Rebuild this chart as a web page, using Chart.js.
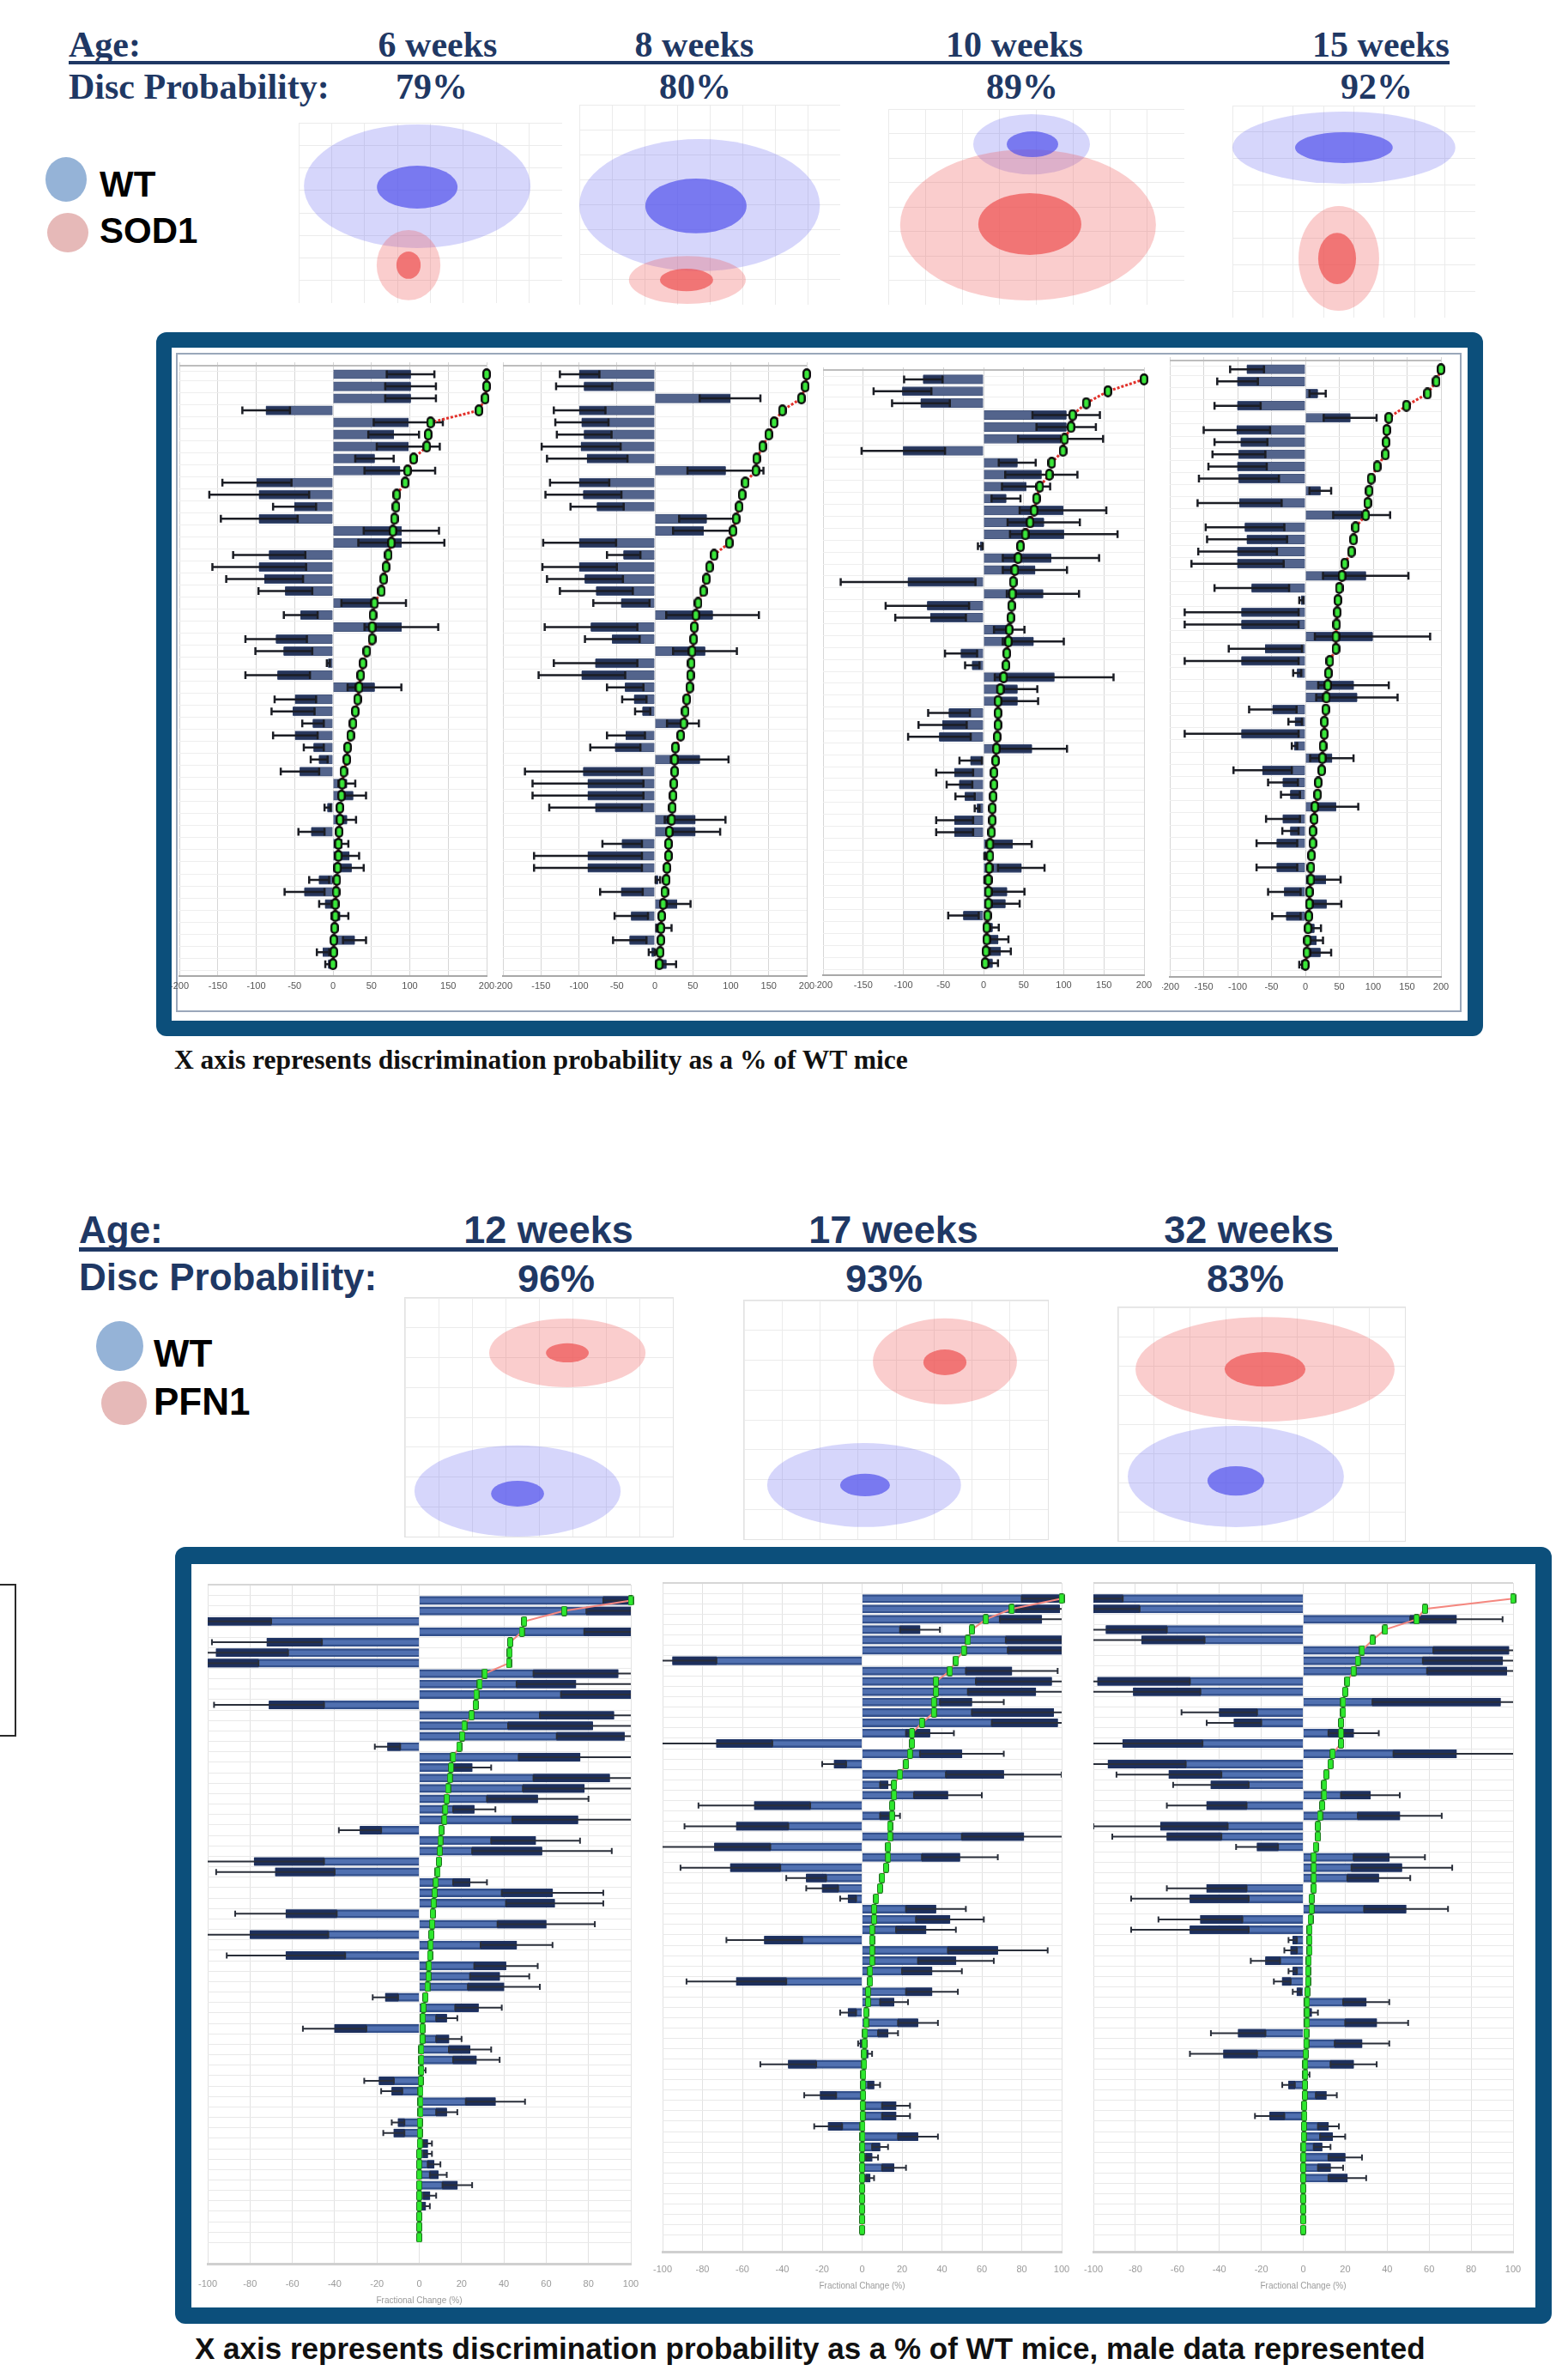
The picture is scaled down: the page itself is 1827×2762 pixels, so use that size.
<!DOCTYPE html>
<html>
<head>
<meta charset="utf-8">
<title>Discrimination probability – SOD1 and PFN1</title>
<script src="https://cdn.jsdelivr.net/npm/chart.js@4.4.1/dist/chart.umd.min.js"></script>
<style>
  html, body { margin:0; padding:0; background:#fff; }
  body { width:1827px; height:2762px; position:relative; overflow:hidden; }
  .abs { position:absolute; }
  canvas { position:absolute; }
  .frame { position:absolute; background:#0c4f7b; border-radius:12px; }
  .inner { position:absolute; background:#fff; }
</style>
</head>
<body>
<!-- framed boxes around the two bar-chart groups -->
<div class="frame" style="left:182px;top:387px;width:1546px;height:820px"></div>
<div class="inner" style="left:200px;top:405px;width:1510px;height:784px"></div>
<div class="abs" style="left:205px;top:411px;width:1494px;height:764px;border:2px solid #9aa7ba"></div>
<div class="frame" style="left:204px;top:1802px;width:1604px;height:905px"></div>
<div class="inner" style="left:223px;top:1822px;width:1566px;height:866px"></div>
<div class="abs" style="left:-3px;top:1845px;width:18px;height:174px;border:2px solid #2a2a2a"></div>

<!-- header rules -->
<div class="abs" style="left:80px;top:71px;width:1609px;height:4px;background:#1f3864"></div>
<div class="abs" style="left:92px;top:1453px;width:1467px;height:5px;background:#1f3864"></div>

<!-- legend swatches -->
<div class="abs" style="left:53px;top:183px;width:48px;height:52px;border-radius:50%;background:#95b3d7"></div>
<div class="abs" style="left:55px;top:248px;width:48px;height:46px;border-radius:50%;background:#e6b9b8"></div>
<div class="abs" style="left:112px;top:1539px;width:55px;height:58px;border-radius:50%;background:#95b3d7"></div>
<div class="abs" style="left:118px;top:1609px;width:53px;height:51px;border-radius:50%;background:#e6b9b8"></div>

<script>
// ---------------- text content ----------------
const sod1Ages = ['6 weeks', '8 weeks', '10 weeks', '15 weeks'];
const sod1Disc = ['79%', '80%', '89%', '92%'];
const pfn1Ages = ['12 weeks', '17 weeks', '32 weeks'];
const pfn1Disc = ['96%', '93%', '83%'];
const topTicks = [-200, -150, -100, -50, 0, 50, 100, 150, 200];
const bottomTicks = [-100, -80, -60, -40, -20, 0, 20, 40, 60, 80, 100];

// ---------------- SOD1 panels: bar value, error, cumulative curve ----------------
const sod1Wk6Values = [101,101,101,-87,98,79,98,54,87,-99,
  -96,-50,-96,89,89,-83,-96,-89,-62,53,
  -42,89,-74,-64,-6,-72,54,-49,-52,-26,
  -49,-25,-18,-43,18,26,-7,18,-28,12,
  21,24,-18,-37,-10,9,0,28,-13,-6];
const sod1Wk6Errors = [31,33,33,31,45,33,41,25,46,45,
  65,28,50,49,56,47,61,50,35,42,
  22,48,40,37,2,42,35,27,28,14,
  29,13,11,25,11,17,4,12,17,8,
  13,16,13,26,8,11,0,15,8,4];
const sod1Wk6Curve = [200,200,198,190,127,124,122,105,97,94,
  83,82,80,78,76,72,69,66,63,54,
  52,51,51,44,39,36,34,32,29,26,
  23,19,18,14,12,11,9,9,8,7,
  7,6,5,4,3,3,2,1,1,0];

const sod1Wk8Values = [-99,-93,99,-99,-96,-93,-97,-89,93,-99,
  -94,-76,68,64,-99,-41,-99,-92,-77,-44,
  76,-84,-56,66,-78,-96,-39,-27,-16,37,
  -38,-52,59,-94,-88,-88,-78,53,53,-43,
  -88,-88,4,-44,29,-31,12,-33,-4,15];
const sod1Wk8Errors = [26,37,40,34,35,36,52,53,50,39,
  50,35,36,40,48,22,49,50,48,37,
  61,61,36,42,55,57,24,16,10,21,
  25,33,38,77,73,73,61,40,33,26,
  71,71,3,28,18,22,10,22,4,13];
const sod1Wk8Curve = [200,198,193,168,157,150,142,134,133,119,
  115,111,107,103,98,78,72,68,64,57,
  54,52,51,49,48,47,46,42,40,38,
  34,27,26,26,25,24,23,22,19,18,
  18,16,15,13,11,9,8,8,7,6];

const sod1Wk10Values = [-75,-101,-78,103,103,96,-100,42,72,53,
  28,99,75,100,-4,84,64,-94,74,-70,
  -66,32,62,-28,-14,88,42,42,-43,-51,
  -55,60,-16,-36,-30,-23,-8,-36,-36,36,
  3,47,5,29,27,-25,11,18,21,11];
const sod1Wk10Errors = [24,36,36,42,37,53,52,23,45,30,
  18,54,45,67,3,60,40,84,45,52,
  44,19,38,20,9,74,25,26,26,30,
  39,44,14,23,16,12,3,23,23,24,
  2,29,4,22,18,19,8,13,13,7];
const sod1Wk10Curve = [200,155,128,111,109,101,99,85,82,70,
  66,63,58,52,46,43,39,37,36,35,
  34,32,31,29,28,25,21,18,18,18,
  17,16,15,13,13,12,11,11,10,8,
  8,7,6,6,6,5,4,4,3,2];

const sod1Wk15Values = [-86,-100,18,-100,66,-101,-95,-98,-100,-98,
  22,-97,83,-89,-86,-100,-100,89,-79,-6,
  -94,-94,99,-59,-94,-12,71,76,-48,-15,
  -94,-16,39,-63,-33,-22,45,-33,-22,-42,
  0,-42,30,-31,31,-28,13,16,22,-6];
const sod1Wk15Errors = [25,30,12,34,39,49,39,39,43,59,
  16,62,42,58,59,58,68,63,55,3,
  84,84,85,54,84,6,52,60,35,10,
  84,4,32,43,22,14,33,25,12,30,
  0,30,22,24,22,21,10,10,16,3];
const sod1Wk15Curve = [200,193,180,149,123,120,119,118,106,97,
  94,92,89,74,71,68,58,54,50,48,
  47,46,45,45,36,34,33,31,30,28,
  28,26,25,24,19,18,14,13,11,11,
  9,8,8,6,6,5,4,3,2,0];

// ---------------- PFN1 panels (fractional change, %) ----------------
const pfn1Wk12Values = [104,103,-102,103,-72,-96,-101,94,74,102,
  -71,92,82,97,-15,76,25,90,78,56,
  26,75,-28,55,58,-78,-68,24,63,64,
  -63,60,-80,46,-63,41,38,40,-16,28,
  13,-40,14,24,27,2,-19,-13,36,13,
  -10,-12,4,4,7,9,18,5,3,0,
  0,0];
const pfn1Wk12Errors = [17,24,32,25,26,34,25,40,28,35,
  26,35,40,32,6,29,9,36,29,24,
  10,31,10,21,33,33,28,8,24,23,
  24,23,37,17,28,15,14,17,6,11,
  5,15,6,10,11,1,7,5,14,5,
  3,5,2,2,3,4,7,3,2,0,
  0,0];
const pfn1Wk12Curve = [100,68.5,49.6,48.5,43,42.7,42.4,31,28.6,27,
  26.7,24.7,21.3,20.3,18.9,16,15,14.5,13.6,13,
  12.3,11.9,10.4,10,9.7,9.3,8.7,7.8,7.3,6.8,
  6.4,6.1,5.7,5.4,5.1,4.6,4.4,3.9,2.9,2,
  1.7,1.5,1.5,1,1,1,0.7,0.6,0.6,0.6,
  0.3,0.3,0.3,0,0,0,0,0,0,0,
  0,0];

const pfn1Wk17Values = [102,99,90,29,102,102,-95,75,95,87,
  55,96,98,34,-73,50,-14,71,13,43,
  -54,14,-63,81,-74,49,-66,-28,-20,-7,
  37,44,32,-49,68,47,35,-63,35,16,
  -7,28,13,-1,3,-37,0,6,-21,17,
  17,-17,28,9,5,16,4,0,0,0,
  0,0];
const pfn1Wk17Errors = [22,22,21,10,30,29,22,23,38,34,
  16,41,33,12,28,21,6,29,4,17,
  28,5,26,31,28,19,25,10,8,4,
  15,17,15,19,25,19,15,25,13,7,
  4,10,5,1,2,14,0,3,8,7,
  7,7,10,4,3,6,2,0,0,0,
  0,0];
const pfn1Wk17Curve = [100,75,62,55,53,51,47,44,37,37,
  36,36,30,25,25,24,22,19,16,16,
  15,15,14,14,13,13,12,10,9,7,
  6,6,5,5,5,5,4,4,3,3,
  2,2,1.5,1.2,1,1,0.6,0.5,0.5,0.3,
  0.3,0.2,0.2,0.1,0,0,0,0,0,0,
  0,0];

const pfn1Wk32Values = [-102,-101,73,-94,-77,98,95,97,-98,-81,
  94,-40,-33,24,-86,73,-93,-64,-44,32,
  -46,46,-68,-65,-22,41,47,36,-46,-54,
  49,-49,-54,-5,-6,-18,-5,-10,-3,30,
  4,35,-31,28,-38,24,2,-7,11,0,
  -16,12,14,9,20,13,21,0,0,0,
  0,0];
const pfn1Wk32Errors = [16,23,22,29,30,36,38,38,44,32,
  61,18,13,12,38,30,37,25,18,14,
  19,20,32,26,10,17,24,15,19,28,
  20,20,28,2,3,7,2,4,2,11,
  3,15,13,13,16,11,1,3,5,0,
  7,5,6,4,8,6,9,0,0,0,
  0,0];
const pfn1Wk32Curve = [100,58,54,39,33,28,26,24,21,20,
  19,19,18,18,18,14,13,11,10,10,
  9,8,7,7,6,5,5,5,5,4,
  4,3.5,3,3,3,2.6,2.3,2.3,2,1.8,
  1.8,1.8,1.5,1.5,1.2,1,1,0.8,0.8,0.5,
  0.5,0.4,0.3,0.2,0.1,0,0,0,0,0,
  0,0];

// ---------------- discriminant-space regions (centre, radii) ----------------
const wk6WtRegions   = [{x:-0.50,y:1.48,rx:4.30,ry:3.43},{x:-0.50,y:1.43,rx:1.53,ry:1.19}];
const wk6Sod1Regions = [{x:-0.83,y:-2.90,rx:1.21,ry:1.95},{x:-0.83,y:-2.90,rx:0.46,ry:0.76}];
const wk8WtRegions   = [{x:-0.39,y:-0.02,rx:4.61,ry:3.30},{x:-0.53,y:-0.06,rx:1.94,ry:1.37}];
const wk8Sod1Regions = [{x:-0.86,y:-3.76,rx:2.24,ry:1.20},{x:-0.89,y:-3.76,rx:1.02,ry:0.56}];
const wk10WtRegions   = [{x:-0.16,y:3.20,rx:1.97,ry:1.54},{x:-0.13,y:3.20,rx:0.87,ry:0.66}];
const wk10Sod1Regions = [{x:-0.28,y:-0.92,rx:4.32,ry:3.86},{x:-0.22,y:-0.88,rx:1.74,ry:1.58}];
const wk15WtRegions   = [{x:-0.41,y:3.02,rx:4.59,ry:1.70},{x:-0.41,y:3.02,rx:2.01,ry:0.73}];
const wk15Sod1Regions = [{x:-0.62,y:-2.21,rx:1.66,ry:2.47},{x:-0.69,y:-2.21,rx:0.78,ry:1.21}];
const wk12WtRegions   = [{x:-0.80,y:-3.09,rx:3.85,ry:1.91},{x:-0.80,y:-3.20,rx:0.99,ry:0.54}];
const wk12Pfn1Regions = [{x:1.06,y:2.70,rx:2.92,ry:1.44},{x:1.06,y:2.70,rx:0.80,ry:0.40}];
const wk17WtRegions   = [{x:-1.05,y:-2.73,rx:3.19,ry:1.76},{x:-1.02,y:-2.73,rx:0.82,ry:0.47}];
const wk17Pfn1Regions = [{x:1.61,y:2.45,rx:2.37,ry:1.80},{x:1.61,y:2.41,rx:0.71,ry:0.54}];
const wk32WtRegions   = [{x:-0.90,y:-2.24,rx:3.77,ry:2.17},{x:-0.90,y:-2.43,rx:0.99,ry:0.63}];
const wk32Pfn1Regions = [{x:0.12,y:2.35,rx:4.52,ry:2.24},{x:0.12,y:2.35,rx:1.41,ry:0.74}];

// ---------------- layout ----------------
const SERIF = '"Liberation Serif","Times New Roman",serif';
const SANS = '"Liberation Sans",Arial,sans-serif';
const NAVY = '#1f3864';

function addText(txt, o) {
  const d = document.createElement('div');
  d.textContent = txt;
  const k = o.family === SERIF ? 0.8375 : 0.8465;
  d.style.cssText = `position:absolute;white-space:nowrap;font-weight:${o.weight || 'bold'};` +
    `font-size:${o.size}px;font-family:${o.family};line-height:${o.size}px;color:${o.color};` +
    `top:${o.baseline - k * o.size}px;`;
  if (o.center != null) {
    d.style.left = (o.center - 300) + 'px'; d.style.width = '600px'; d.style.textAlign = 'center';
  } else {
    d.style.left = o.left + 'px';
  }
  document.body.appendChild(d);
}

// SOD1 header
addText('Age:', {left:80, baseline:66, size:42, family:SERIF, color:NAVY});
addText('Disc Probability:', {left:80, baseline:115, size:42, family:SERIF, color:NAVY});
[510, 809, 1182, 1609].forEach((c, i) => addText(sod1Ages[i], {center:c, baseline:66, size:42, family:SERIF, color:NAVY}));
[503, 810, 1191, 1604].forEach((c, i) => addText(sod1Disc[i], {center:c, baseline:115, size:42, family:SERIF, color:NAVY}));
addText('WT', {left:116, baseline:230, size:42, family:SANS, color:'#000'});
addText('SOD1', {left:116, baseline:284, size:42, family:SANS, color:'#000'});
addText('X axis represents discrimination probability as a % of WT mice',
  {left:203, baseline:1245, size:31.5, family:SERIF, color:'#111'});

// PFN1 header
addText('Age:', {left:92, baseline:1448, size:44, family:SANS, color:NAVY});
addText('Disc Probability:', {left:92, baseline:1503, size:44, family:SANS, color:NAVY});
[639, 1041, 1455].forEach((c, i) => addText(pfn1Ages[i], {center:c, baseline:1448, size:45, family:SANS, color:NAVY}));
[648, 1030, 1451].forEach((c, i) => addText(pfn1Disc[i], {center:c, baseline:1505, size:45, family:SANS, color:NAVY}));
addText('WT', {left:179, baseline:1592, size:44, family:SANS, color:'#000'});
addText('PFN1', {left:179, baseline:1648, size:44, family:SANS, color:'#000'});
addText('X axis represents discrimination probability as a % of WT mice, male data represented',
  {left:227, baseline:2748, size:35, family:SANS, color:'#111'});

// ---------------- Chart.js helpers ----------------
function makeCanvas(left, top, w, h, extraStyle) {
  const c = document.createElement('canvas');
  c.width = w; c.height = h;
  c.style.left = left + 'px'; c.style.top = top + 'px';
  c.style.width = w + 'px'; c.style.height = h + 'px';
  if (extraStyle) c.style.outline = extraStyle;
  document.body.appendChild(c);
  return c;
}

function capsule(w, h, r, fill, stroke, lw) {
  const c = document.createElement('canvas');
  c.width = w; c.height = h;
  const g = c.getContext('2d');
  g.beginPath();
  g.roundRect(lw / 2, lw / 2, w - lw, h - lw, r);
  g.fillStyle = fill; g.fill();
  g.lineWidth = lw; g.strokeStyle = stroke; g.stroke();
  return c;
}

// ellipses drawn from each dataset's points through the chart scales
const ellipsePlugin = {
  id: 'ellipses',
  beforeDatasetsDraw(chart) {
    const {ctx, chartArea: a, scales: {x, y}} = chart;
    ctx.save();
    ctx.beginPath(); ctx.rect(a.left, a.top, a.width, a.height); ctx.clip();
    chart.data.datasets.forEach(ds => ds.data.forEach(p => {
      const cx = x.getPixelForValue(p.x), cy = y.getPixelForValue(p.y);
      const rx = Math.abs(x.getPixelForValue(p.x + p.rx) - cx);
      const ry = Math.abs(y.getPixelForValue(p.y + p.ry) - cy);
      ctx.beginPath(); ctx.ellipse(cx, cy, rx, ry, 0, 0, Math.PI * 2);
      ctx.fillStyle = ds.backgroundColor; ctx.fill();
    }));
    ctx.restore();
  }
};

const WT_OUT = 'rgba(95,95,240,0.26)', WT_IN = 'rgba(85,85,235,0.72)';
const MUT_OUT = 'rgba(240,90,90,0.30)', MUT_IN = 'rgba(238,80,80,0.70)';

function ellipsePanel(box, wt, mut, outline) {
  const cv = makeCanvas(box[0], box[1], box[2], box[3], outline);
  const axis = (isX) => ({
    min: -5, max: 5,
    ticks: {display: false, stepSize: 1.25},
    grid: {color: '#ebebeb', drawTicks: false},
    border: {display: false},
    afterFit: s => { if (isX) s.height = 0; else s.width = 0; }
  });
  new Chart(cv, {
    type: 'scatter',
    data: {datasets: [
      {label: 'WT', data: [wt[0]], backgroundColor: WT_OUT, pointRadius: 0},
      {label: 'Mutant', data: [mut[0]], backgroundColor: MUT_OUT, pointRadius: 0},
      {label: 'Mutant core', data: [mut[1]], backgroundColor: MUT_IN, pointRadius: 0},
      {label: 'WT core', data: [wt[1]], backgroundColor: WT_IN, pointRadius: 0}
    ]},
    options: {
      responsive: false, animation: false, events: [],
      layout: {padding: 0},
      plugins: {legend: {display: false}, tooltip: {enabled: false}},
      scales: {x: axis(true), y: axis(false)}
    },
    plugins: [ellipsePlugin]
  });
}

function whiskerPlugin(rows, values, errors, st) {
  return {
    id: 'whiskers',
    afterDatasetDraw(chart, args) {
      if (args.index !== 1) return;
      const {ctx, chartArea: a, scales: {x, y}} = chart;
      ctx.save();
      ctx.beginPath(); ctx.rect(a.left, a.top - 3, a.width, a.height + 6); ctx.clip();
      ctx.strokeStyle = st.whisker; ctx.lineWidth = st.whiskerW;
      values.forEach((v, i) => {
        const e = errors[i];
        if (!e) return;
        const py = y.getPixelForValue(rows[i]);
        const x1 = x.getPixelForValue(v - e), x2 = x.getPixelForValue(v + e);
        ctx.beginPath();
        ctx.moveTo(x1, py); ctx.lineTo(x2, py);
        ctx.moveTo(x1, py - st.cap); ctx.lineTo(x1, py + st.cap);
        ctx.moveTo(x2, py - st.cap); ctx.lineTo(x2, py + st.cap);
        ctx.stroke();
      });
      ctx.restore();
    }
  };
}

function barPanel(frame, values, errors, curve, ticks, st) {
  const rows = values.map((_, i) => i + 1);
  const areaH = frame.areaB - frame.areaT;
  const top = Math.floor(frame.areaT - 6);
  const pTop = frame.areaT - top;
  const H = Math.ceil(pTop + areaH + st.axisH);
  const pBottom = H - pTop - areaH - st.axisH;
  const W = frame.plotR - frame.plotL + 2 * st.pad;
  const cv = makeCanvas(frame.plotL - st.pad, top, W, H);

  const light = values.map((v, i) => ({x: v === 0 ? null : v, y: rows[i]}));
  const dark = values.map((v, i) => ({
    x: errors[i] === 0 ? null : (v >= 0 ? [v - errors[i], v] : [v, v + errors[i]]),
    y: rows[i]
  }));
  const curvePts = curve.map((c, i) => ({x: c, y: rows[i]}));
  const yMin = frame.yMin, yMax = frame.yMax;

  new Chart(cv, {
    type: 'bar',
    data: {datasets: [
      {type: 'line', label: 'Cumulative', order: 0, data: curvePts,
        borderColor: st.lineColor, borderWidth: st.lineWidth, borderDash: st.lineDash,
        pointStyle: st.marker, pointRadius: 6, tension: 0, clip: 14, fill: false},
      {label: 'Error', order: 1, data: dark, backgroundColor: st.dark,
        barThickness: st.darkThick, grouped: false},
      {label: 'Mean', order: 2, data: light, backgroundColor: st.light,
        borderColor: st.lightEdge, borderWidth: st.lightBorder, barThickness: st.thick, grouped: false}
    ]},
    options: {
      indexAxis: 'y', responsive: false, animation: false, events: [],
      layout: {padding: {left: st.pad, right: st.pad, top: pTop, bottom: pBottom}},
      plugins: {legend: {display: false}, tooltip: {enabled: false}},
      scales: {
        x: {
          type: 'linear', position: 'bottom', min: ticks[0], max: ticks[ticks.length - 1],
          afterBuildTicks: s => { s.ticks = ticks.map(v => ({value: v})); },
          afterFit: s => { s.height = st.axisH; s.paddingLeft = 0; s.paddingRight = 0; },
          ticks: {font: {family: st.tickFamily, size: st.tickSize}, color: st.tickColor,
            padding: st.tickPad, maxRotation: 0, autoSkip: false},
          grid: {color: st.vGrid, drawTicks: false},
          border: {display: true, color: st.axisColor, width: st.axisW},
          title: st.title ? {display: true, text: st.title, color: '#9a9a9a',
            font: {family: SANS, size: 10}, padding: {top: 0, bottom: 2}} : {display: false}
        },
        y: {
          type: 'linear', reverse: true, min: yMin, max: yMax,
          afterBuildTicks: s => { s.ticks = [yMin].concat(rows).map(v => ({value: v})); },
          afterFit: s => { s.width = 0; },
          ticks: {display: false},
          grid: {
            color: c => (c.tick && c.tick.value === yMin) ? st.topEdge : st.hGrid,
            lineWidth: c => (c.tick && c.tick.value === yMin) ? 2 : 1,
            drawTicks: false
          },
          border: {display: false}
        }
      }
    },
    plugins: [whiskerPlugin(rows, values, errors, st)]
  });
}

// ---------------- styles ----------------
const sod1Style = {
  pad: 4, axisH: 28, thick: 10.5, darkThick: 8.5,
  light: '#53648c', lightEdge: '#45567c', lightBorder: 1, dark: '#26355a',
  whisker: '#1b1d24', whiskerW: 2.5, cap: 4.5,
  lineColor: '#e2312b', lineWidth: 3, lineDash: [3, 2],
  marker: capsule(10, 14, 4.5, '#3ae63a', '#0d0d0d', 2.4),
  tickFamily: '"Liberation Sans Narrow","Liberation Sans",sans-serif', tickSize: 11,
  tickColor: '#555', tickPad: 5,
  vGrid: '#d6d6d6', hGrid: '#eeeeee', topEdge: '#bdbdbd', axisColor: '#a8a8a8', axisW: 2
};
const pfn1Style = Object.assign({}, sod1Style, {
  pad: 12, thick: 9.5, darkThick: 9,
  light: '#5070b0', lightEdge: '#33508c', lightBorder: {top: 2.5, bottom: 2.5, left: 0, right: 0},
  dark: '#1d2f5c', whisker: '#2a2f3a', whiskerW: 2, cap: 3.5,
  lineColor: '#f4877f', lineWidth: 2, lineDash: [],
  marker: capsule(7, 12, 1.5, '#2ee82e', '#1f6f1f', 1),
  tickColor: '#9a9a9a', vGrid: '#e2e2e2', hGrid: '#e9e9e9', topEdge: '#d6d6d6',
  axisColor: '#d0d0d0', axisW: 3, title: 'Fractional Change (%)'
});

// ---------------- SOD1 ellipse panels ----------------
ellipsePanel([348, 143, 307, 210], wk6WtRegions, wk6Sod1Regions);
ellipsePanel([675, 122, 304, 233], wk8WtRegions, wk8Sod1Regions);
ellipsePanel([1035, 127, 345, 228], wk10WtRegions, wk10Sod1Regions);
ellipsePanel([1436, 123, 283, 247], wk15WtRegions, wk15Sod1Regions);

// ---------------- PFN1 ellipse panels ----------------
ellipsePanel([472, 1512, 312, 278], wk12WtRegions, wk12Pfn1Regions, '1px solid #e2e2e2');
ellipsePanel([867, 1515, 354, 278], wk17WtRegions, wk17Pfn1Regions, '1px solid #e2e2e2');
ellipsePanel([1303, 1523, 334, 272], wk32WtRegions, wk32Pfn1Regions, '1px solid #e2e2e2');

// ---------------- SOD1 bar panels ----------------
barPanel({plotL: 204, plotR: 572, areaT: 419.8, areaB: 1137.2, yMin: 0.5, yMax: 50.5},
  sod1Wk6Values, sod1Wk6Errors, sod1Wk6Curve, topTicks, sod1Style);
barPanel({plotL: 581, plotR: 945, areaT: 419.8, areaB: 1137.2, yMin: 0.5, yMax: 50.5},
  sod1Wk8Values, sod1Wk8Errors, sod1Wk8Curve, topTicks, sod1Style);
barPanel({plotL: 954, plotR: 1338, areaT: 425, areaB: 1136, yMin: 0.5, yMax: 50.5},
  sod1Wk10Values, sod1Wk10Errors, sod1Wk10Curve, topTicks, sod1Style);
barPanel({plotL: 1358, plotR: 1684, areaT: 413, areaB: 1138, yMin: 0.5, yMax: 50.5},
  sod1Wk15Values, sod1Wk15Errors, sod1Wk15Curve, topTicks, sod1Style);

// ---------------- PFN1 bar panels ----------------
barPanel({plotL: 242, plotR: 735, areaT: 1844, areaB: 2637, yMin: 0, yMax: 64},
  pfn1Wk12Values, pfn1Wk12Errors, pfn1Wk12Curve, bottomTicks,
  Object.assign({}, pfn1Style, {axisH: 51, tickPad: 17}));
barPanel({plotL: 772, plotR: 1237, areaT: 1842, areaB: 2623, yMin: 0, yMax: 63.6},
  pfn1Wk17Values, pfn1Wk17Errors, pfn1Wk17Curve, bottomTicks,
  Object.assign({}, pfn1Style, {axisH: 48, tickPad: 14}));
barPanel({plotL: 1274, plotR: 1763, areaT: 1842, areaB: 2623, yMin: 0, yMax: 63.6},
  pfn1Wk32Values, pfn1Wk32Errors, pfn1Wk32Curve, bottomTicks,
  Object.assign({}, pfn1Style, {axisH: 48, tickPad: 14}));
</script>
</body>
</html>
